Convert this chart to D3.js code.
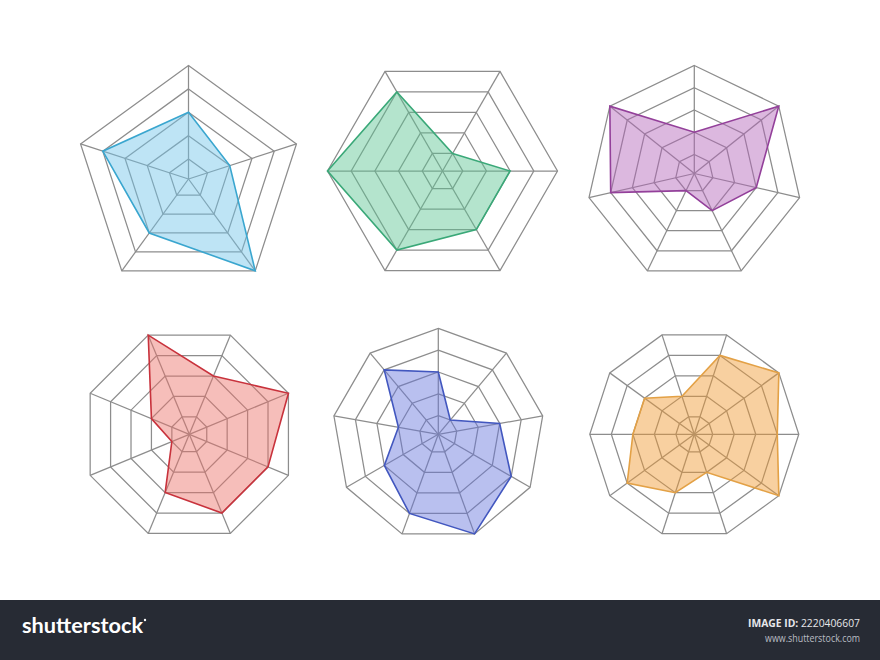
<!DOCTYPE html>
<html>
<head>
<meta charset="utf-8">
<script src="https://cdn.jsdelivr.net/npm/d3@7"></script>
<style>
  html, body { margin: 0; padding: 0; background: #ffffff; }
  #chart { width: 880px; height: 660px; }
</style>
</head>
<body>
<div id="chart"></div>
<script>
// ring levels shared by every radar
const levels = [1, 2, 3, 4, 5];

// values per axis, clockwise from the first axis
const pentagonValues = [3, 2, 5, 3, 4];
const hexagonValues = [1, 3, 3, 4, 5, 4];
const heptagonValues = [2, 5, 3, 2, 1, 4, 5];
const octagonValues = [3, 5, 4, 4, 3, 1, 2, 5];
const nonagonValues = [3, 1, 3, 4, 5, 4, 3, 2, 4];
const decagonValues = [4, 5, 4, 5, 2, 3, 4, 3, 3, 2];

const footerLogo = "shutterstock";
const footerIdLabel = "IMAGE ID:";
const footerId = "2220406607";
const footerUrl = "www.shutterstock.com";

const width = 880;
const height = 660;

const charts = [
  { values: pentagonValues, cx: 188.5, cy: 179, r: 113.5, fill: "#72c4e9", stroke: "#3aa6cf" },
  { values: hexagonValues, cx: 442.5, cy: 171, r: 115, fill: "#5cc492", stroke: "#3aa878" },
  { values: heptagonValues, cx: 694.3, cy: 173.5, r: 108, fill: "#b365b9", stroke: "#93409a" },
  { values: octagonValues, cx: 189.3, cy: 434.3, r: 107.3, fill: "#eb7269", stroke: "#c8323c" },
  { values: nonagonValues, cx: 438.3, cy: 434.3, r: 106, fill: "#6776dd", stroke: "#4257bf" },
  { values: decagonValues, cx: 694.3, cy: 434.3, r: 104.5, fill: "#f09931", stroke: "#e3a146" }
];

const svg = d3.select("#chart")
  .append("svg")
  .attr("width", width)
  .attr("height", height)
  .attr("viewBox", `0 0 ${width} ${height}`);

svg.append("rect")
  .attr("width", width)
  .attr("height", height)
  .attr("fill", "#ffffff");

charts.forEach((c) => {
  const n = c.values.length;
  // even polygons sit flat on top, odd ones have a vertex at 12 o'clock
  const start = n % 2 === 0 ? Math.PI / n : 0;
  const indices = d3.range(n);

  const angle = d3.scaleLinear()
    .domain([0, n])
    .range([start, start + 2 * Math.PI]);

  const radius = d3.scaleLinear()
    .domain([0, d3.max(levels)])
    .range([-c.r * 0.03, c.r]);

  const ring = d3.lineRadial()
    .curve(d3.curveLinearClosed);

  const g = svg.append("g")
    .attr("transform", `translate(${c.cx},${c.cy})`);

  // grid rings
  g.selectAll("path.ring")
    .data(levels)
    .enter()
    .append("path")
    .attr("class", "ring")
    .attr("d", (lv) => ring(indices.map((i) => [angle(i), radius(lv)])))
    .attr("fill", "none")
    .attr("stroke", "#8d8d8d")
    .attr("stroke-width", 1.25);

  // spokes
  g.selectAll("line.spoke")
    .data(indices)
    .enter()
    .append("line")
    .attr("class", "spoke")
    .attr("x1", 0)
    .attr("y1", 0)
    .attr("x2", (i) => radius(d3.max(levels)) * Math.sin(angle(i)))
    .attr("y2", (i) => -radius(d3.max(levels)) * Math.cos(angle(i)))
    .attr("stroke", "#8d8d8d")
    .attr("stroke-width", 1.25);

  // data area
  g.append("path")
    .datum(c.values)
    .attr("d", (vals) => ring(vals.map((v, i) => [angle(i), radius(v)])))
    .attr("fill", c.fill)
    .attr("fill-opacity", 0.46)
    .attr("stroke", c.stroke)
    .attr("stroke-width", 1.6)
    .attr("stroke-linejoin", "miter");
});

// footer bar
const footer = svg.append("g");

footer.append("rect")
  .attr("x", 0)
  .attr("y", 600)
  .attr("width", width)
  .attr("height", 60)
  .attr("fill", "#272b34");

footer.append("text")
  .attr("x", 22)
  .attr("y", 633)
  .attr("fill", "#ffffff")
  .attr("font-family", "Lato, 'Open Sans', sans-serif")
  .attr("font-weight", 700)
  .attr("font-size", 21)
  .attr("textLength", 121)
  .attr("lengthAdjust", "spacingAndGlyphs")
  .text(footerLogo);

footer.append("circle")
  .attr("cx", 145)
  .attr("cy", 620)
  .attr("r", 1.2)
  .attr("fill", "#ffffff");

const idText = footer.append("text")
  .attr("x", 860)
  .attr("y", 627)
  .attr("text-anchor", "end")
  .attr("fill", "#e6e7ea")
  .attr("font-family", "'Open Sans', sans-serif")
  .attr("font-size", 11)
  .attr("textLength", 112)
  .attr("lengthAdjust", "spacingAndGlyphs");

idText.append("tspan")
  .attr("font-weight", 700)
  .text(footerIdLabel + " ");

idText.append("tspan")
  .text(footerId);

footer.append("text")
  .attr("x", 860)
  .attr("y", 642)
  .attr("text-anchor", "end")
  .attr("fill", "#b9bcc3")
  .attr("font-family", "'Open Sans', sans-serif")
  .attr("font-size", 10.5)
  .attr("textLength", 95)
  .attr("lengthAdjust", "spacingAndGlyphs")
  .text(footerUrl);
</script>
</body>
</html>
